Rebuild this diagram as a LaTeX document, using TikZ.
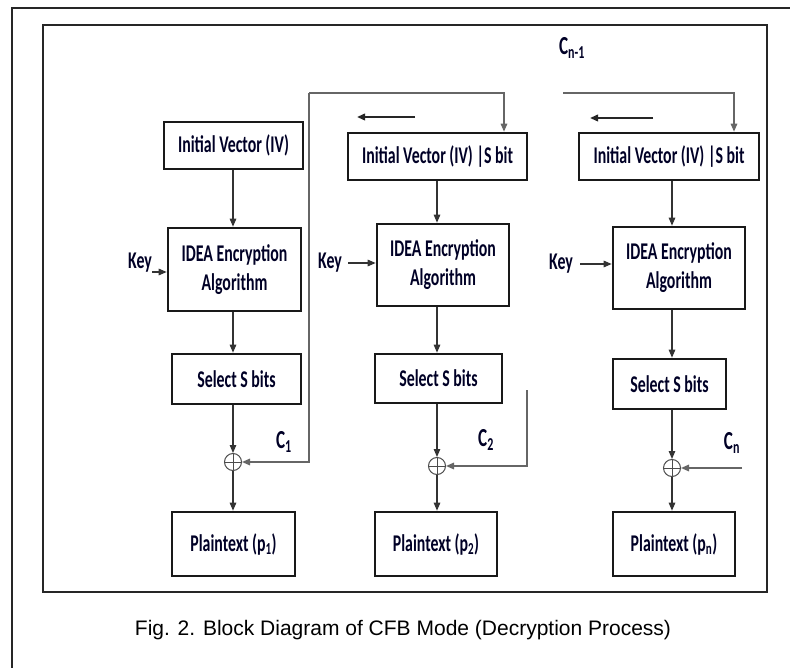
\documentclass[tikz,border=0pt]{standalone}
\usepackage{fontspec}
\setmainfont{Liberation Sans}
\newfontfamily\boxfont[FakeStretch=0.66]{Carlito}
\usetikzlibrary{arrows.meta}
\begin{document}
\begin{tikzpicture}[x=1pt,y=-1pt,
  blk/.style={draw=black!90, line width=2.6pt, inner sep=0pt, align=center,
    font=\boxfont\bfseries\fontsize{24}{29}\selectfont, text=black!85!blue},
  tip/.style={-{Triangle[length=8pt,width=6.5pt]}},
  con/.style={draw=black!80, line width=1.2pt, tip},
  fbl/.style={draw=black!60, line width=1.5pt},
  shft/.style={draw=black!85, line width=2pt, tip},
  lbl/.style={font=\boxfont\bfseries\fontsize{26}{30}\selectfont, inner sep=0pt, text=black!85!blue},
  keyl/.style={font=\boxfont\bfseries\fontsize{24}{29}\selectfont, inner sep=0pt, text=black!85!blue},
  xorn/.style={circle, draw=black!70, line width=1pt, minimum size=17pt, inner sep=0pt,
    path picture={\draw[black!70, line width=1pt]
      (path picture bounding box.north) -- (path picture bounding box.south)
      (path picture bounding box.west) -- (path picture bounding box.east);}},
  captxt/.style={font=\fontsize{21}{25}\selectfont, inner sep=0pt}
]
\useasboundingbox (0,0) rectangle (790,668);
\fill[white] (0,0) rectangle (790,668);
% outer frame (only top and left edges inside the picture)
\draw[black!85, line width=2pt] (790,8) -- (12,8) -- (12,668);
% inner frame
\draw[black!85, line width=2.6pt] (43,25) rectangle (767,592);

% column 1
\node[blk, minimum width=139pt, minimum height=47pt] (iv1) at (233.5,145.5) {Initial Vector (IV)};
\node[blk, minimum width=133pt, minimum height=83pt] (enc1) at (234.5,269.5) {IDEA Encryption\\Algorithm};
\node[blk, minimum width=129pt, minimum height=50pt] (sel1) at (236.5,379) {Select S bits};
\node[xorn] (xor1) at (233,462) {};
\node[blk, minimum width=123pt, minimum height=64pt] (pt1) at (233.5,544) {Plaintext (\textbf{p}\textsubscript{1})};
\node[keyl] (key1) at (140,263) {Key};
\coordinate (c1) at (233,0);

% column 2
\node[blk, minimum width=179pt, minimum height=47pt] (iv2) at (437.5,156.5) {Initial Vector (IV) |S bit};
\node[blk, minimum width=132pt, minimum height=82pt] (enc2) at (443,265) {IDEA Encryption\\Algorithm};
\node[blk, minimum width=127pt, minimum height=49pt] (sel2) at (438.5,378.5) {Select S bits};
\node[xorn] (xor2) at (437,466) {};
\node[blk, minimum width=122pt, minimum height=64pt] (pt2) at (436,544) {Plaintext (\textbf{p}\textsubscript{2})};
\node[keyl] (key2) at (330,263) {Key};
\coordinate (c2) at (437,0);

% column 3
\node[blk, minimum width=180pt, minimum height=47pt] (iv3) at (669,156.5) {Initial Vector (IV) |S bit};
\node[blk, minimum width=132pt, minimum height=82pt] (enc3) at (679,268) {IDEA Encryption\\Algorithm};
\node[blk, minimum width=113pt, minimum height=50pt] (sel3) at (669.5,384) {Select S bits};
\node[xorn] (xor3) at (672,468) {};
\node[blk, minimum width=122pt, minimum height=64pt] (pt3) at (674,544) {Plaintext (\textbf{p}\textsubscript{n})};
\node[keyl] (key3) at (561,264) {Key};
\coordinate (c3) at (672,0);

% vertical flow
\draw[con] (iv1.south -| c1) -- (enc1.north -| c1);
\draw[con] (enc1.south -| c1) -- (sel1.north -| c1);
\draw[con] (sel1.south -| c1) -- (xor1.north);
\draw[con] (xor1.south) -- (pt1.north -| c1);

\draw[con] (iv2.south -| c2) -- (enc2.north -| c2);
\draw[con] (enc2.south -| c2) -- (sel2.north -| c2);
\draw[con] (sel2.south -| c2) -- (xor2.north);
\draw[con] (xor2.south) -- (pt2.north -| c2);

\draw[con] (iv3.south -| c3) -- (enc3.north -| c3);
\draw[con] (enc3.south -| c3) -- (sel3.north -| c3);
\draw[con] (sel3.south -| c3) -- (xor3.north);
\draw[con] (xor3.south) -- (pt3.north -| c3);

% keys
\draw[con] ([yshift=-9pt]key1.east) -- ([yshift=-9pt]key1.east -| enc1.west);
\draw[con] ([xshift=6pt]key2.east) -- (key2.east -| enc2.west);
\draw[con] ([xshift=7pt]key3.east) -- (key3.east -| enc3.west);

% feedback C1 -> column 2
\coordinate (t1) at (309,93);
\coordinate (t1r) at (504,93);
\draw[fbl, tip] (t1) -- (t1r) -- (t1r |- iv2.north);
\draw[fbl, tip] (t1) -- (t1 |- xor1.east) -- (xor1.east);
\node[lbl] (lc1) at (284,442) {C\textsubscript{1}};

% feedback C2
\coordinate (t2) at (527,390);
\draw[fbl, tip] (t2) -- (t2 |- xor2.east) -- (xor2.east);
\node[lbl] (lc2) at (486,440) {C\textsubscript{2}};

% C_{n-1} -> column 3
\coordinate (t3) at (563,93);
\coordinate (t3r) at (734,93);
\draw[fbl, tip] (t3) -- (t3r) -- (t3r |- iv3.north);
\node[lbl] (lcn1) at (572,48) {C\textsubscript{n-1}};

% Cn
\coordinate (t4) at (742,468);
\draw[fbl, tip] (t4) -- (xor3.east);
\node[lbl] (lcn) at (732,443) {C\textsubscript{n}};

% shift arrows
\coordinate (s2a) at (415,117);
\coordinate (s2b) at (357,117);
\draw[shft] (s2a) -- (s2b);
\coordinate (s3a) at (653,118);
\coordinate (s3b) at (590,118);
\draw[shft] (s3a) -- (s3b);

% caption
\node[captxt] (caption) at (403,630) {Fig. 2. Block Diagram of CFB Mode (Decryption Process)};
\end{tikzpicture}
\end{document}
